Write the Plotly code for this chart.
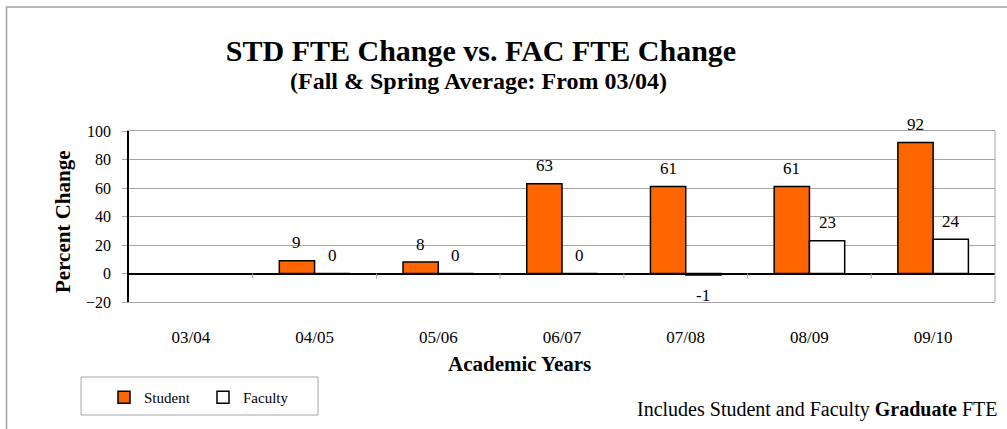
import plotly.graph_objects as go

# Academic years and percent change in FTE relative to 03/04
years = ["03/04", "04/05", "05/06", "06/07", "07/08", "08/09", "09/10"]
student_change = [None, 9, 8, 63, 61, 61, 92]
faculty_change = [None, 0, 0, 0, -1, 23, 24]

FONT = "Liberation Serif"
ORANGE = "#ff6600"
GRID = "#a6a6a6"

W, H = 1007, 429
M_L, M_R, M_T, M_B = 129, 12, 131, 127
BARGAP = 0.43

plot_w = W - M_L - M_R
plot_h = H - M_T - M_B


def px_x(px):
    """Horizontal pixel position -> paper fraction."""
    return (px - M_L) / plot_w


def px_y(py):
    """Vertical pixel position (from top) -> paper fraction."""
    return (H - M_B - py) / plot_h


fig = go.Figure()
fig.add_trace(go.Bar(
    name="Student", x=years, y=student_change,
    marker=dict(color=ORANGE, line=dict(color="black", width=1.5)),
))
fig.add_trace(go.Bar(
    name="Faculty", x=years, y=faculty_change,
    marker=dict(color="white", line=dict(color="black", width=1.5)),
))

# value labels above (or below) each bar
bar_px = plot_w / len(years) * (1 - BARGAP) / 2
annotations = []
for vals, side in ((student_change, -1), (faculty_change, 1)):
    for yr, v in zip(years, vals):
        if v is None:
            continue
        annotations.append(dict(
            x=yr, y=v, xref="x", yref="y", text=str(v), showarrow=False,
            xshift=side * bar_px / 2, yshift=18 if v >= 0 else -21,
            yanchor="middle", font=dict(family=FONT, size=17, color="black"),
        ))

# subtitle, axis titles and footnote
annotations += [
    dict(text="<b>(Fall & Spring Average: From 03/04)</b>", xref="paper", yref="paper",
         x=px_x(478), y=px_y(81), xanchor="center", yanchor="middle", showarrow=False,
         font=dict(family=FONT, size=24, color="black")),
    dict(text="<b>Percent Change</b>", xref="paper", yref="paper", textangle=-90,
         x=px_x(63), y=px_y(222), xanchor="center", yanchor="middle", showarrow=False,
         font=dict(family=FONT, size=21, color="black")),
    dict(text="<b>Academic Years</b>", xref="paper", yref="paper",
         x=px_x(519), y=px_y(364), xanchor="center", yanchor="middle", showarrow=False,
         font=dict(family=FONT, size=21, color="black")),
    dict(text="Includes Student and Faculty <b>Graduate</b> FTE", xref="paper", yref="paper",
         x=px_x(1000), y=px_y(409), xanchor="right", yanchor="middle", showarrow=False,
         font=dict(family=FONT, size=20, color="black")),
]

shapes = [
    # outer chart frame (left and top edges visible)
    dict(type="rect", xref="paper", yref="paper",
         x0=px_x(6.5), x1=1.2, y0=-1.0, y1=px_y(7),
         line=dict(color="#a0a0a0", width=1.5), layer="below"),
    # right edge of plot area
    dict(type="line", xref="paper", yref="paper", x0=1, x1=1, y0=0, y1=1,
         line=dict(color=GRID, width=1)),
    # legend frame
    dict(type="rect", xref="paper", yref="paper",
         x0=px_x(81), x1=px_x(318), y0=px_y(415), y1=px_y(377),
         line=dict(color=GRID, width=1), layer="below"),
]
# category separator ticks hanging from the zero line
for i in range(1, len(years)):
    shapes.append(dict(
        type="line", xref="x", yref="y", ysizemode="pixel", yanchor=0,
        x0=i - 0.5, x1=i - 0.5, y0=0, y1=-5,
        line=dict(color=GRID, width=1),
    ))

fig.update_layout(
    width=W, height=H,
    margin=dict(l=M_L, r=M_R, t=M_T, b=M_B),
    paper_bgcolor="white", plot_bgcolor="white",
    barmode="group", bargap=BARGAP, bargroupgap=0,
    title=dict(text="<b>STD FTE Change vs. FAC FTE Change</b>",
               x=481 / W, xanchor="center", xref="container",
               y=1 - 50 / H, yanchor="middle", yref="container",
               font=dict(family=FONT, size=30, color="black")),
    font=dict(family=FONT, color="black"),
    xaxis=dict(
        type="category", range=[-0.5, len(years) - 0.5],
        showline=True, linecolor=GRID, linewidth=1, mirror=True,
        ticks="", showgrid=False, ticklabelstandoff=20,
        tickfont=dict(family=FONT, size=17, color="black"),
    ),
    yaxis=dict(
        range=[-20, 100], dtick=20, tick0=0,
        showline=True, linecolor="black", linewidth=1.5,
        ticks="outside", ticklen=5, tickcolor=GRID,
        showgrid=True, gridcolor=GRID, gridwidth=1,
        zeroline=True, zerolinecolor="black", zerolinewidth=1.5,
        ticklabelstandoff=8,
        tickfont=dict(family=FONT, size=16, color="black"),
    ),
    legend=dict(
        orientation="h", x=px_x(104), y=px_y(381),
        xanchor="left", yanchor="top",
        borderwidth=0, bgcolor="rgba(0,0,0,0)",
        font=dict(family=FONT, size=15, color="black"),
        entrywidth=54,
    ),
    annotations=annotations,
    shapes=shapes,
)

fig.write_html("out.html")
